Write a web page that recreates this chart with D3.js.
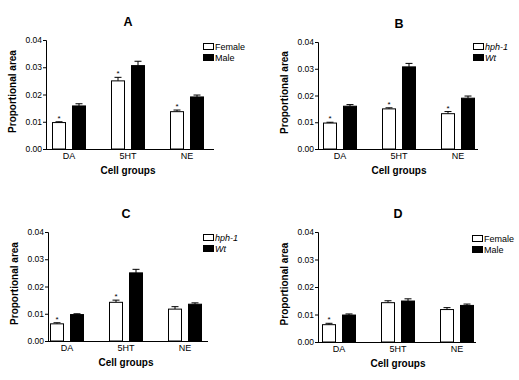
<!DOCTYPE html>
<html>
<head>
<meta charset="utf-8">
<script src="https://cdn.jsdelivr.net/npm/d3@7"></script>
<style>
  body { margin: 0; background: #fff; }
  svg { display: block; font-family: "Liberation Sans", Arial, sans-serif; }
</style>
</head>
<body>
<svg id="chart" width="519" height="380"></svg>
<script>
const groups = ["DA", "5HT", "NE"];
const yTicks = [0, 0.01, 0.02, 0.03, 0.04];
const sexSeries = ["Female", "Male"];
const geneSeries = ["hph-1", "Wt"];

// panel A: female vs male
const aOpen = [0.0097, 0.0250, 0.0137];
const aOpenErr = [0.0003, 0.0013, 0.0006];
const aFilled = [0.0158, 0.0306, 0.0191];
const aFilledErr = [0.0008, 0.0016, 0.0007];
const aStars = [true, true, true];

// panel B: hph-1 vs wt
const bOpen = [0.0097, 0.0150, 0.0132];
const bOpenErr = [0.0003, 0.0004, 0.0008];
const bFilled = [0.0160, 0.0307, 0.0190];
const bFilledErr = [0.0006, 0.0013, 0.0008];
const bStars = [true, true, true];

// panel C: hph-1 vs wt
const cOpen = [0.0063, 0.0142, 0.0117];
const cOpenErr = [0.0004, 0.0008, 0.0009];
const cFilled = [0.0097, 0.0250, 0.0135];
const cFilledErr = [0.0003, 0.0013, 0.0005];
const cStars = [true, true, false];

// panel D: female vs male
const dOpen = [0.0063, 0.0143, 0.0118];
const dOpenErr = [0.0005, 0.0007, 0.0007];
const dFilled = [0.0098, 0.0149, 0.0133];
const dFilledErr = [0.0004, 0.0008, 0.0005];
const dStars = [true, false, false];

const svg = d3.select("#chart");

function drawPanel(p) {
  const g = svg.append("g");
  const y = d3.scaleLinear().domain([0, 0.04]).range([p.bottom, p.top]);
  const x = d3.scalePoint().domain(groups).range([p.left + p.firstC, p.left + p.firstC + 118]);
  const x1 = d3.scaleBand().domain(p.series).range([-17, 17]).paddingInner(0.3);

  // y axis
  const yAxis = d3.axisLeft(y).tickValues(yTicks).tickFormat(d3.format(".2f")).tickSize(3).tickPadding(1);
  const ya = g.append("g").attr("transform", `translate(${p.left},0)`).call(yAxis);
  ya.select(".domain").attr("stroke", "#000").attr("stroke-width", 1);
  ya.selectAll(".tick line").attr("stroke", "#000");
  ya.selectAll(".tick text").attr("font-size", 8.5).attr("fill", "#000");

  // x baseline
  g.append("line")
    .attr("x1", p.left).attr("x2", p.left + p.axisLen)
    .attr("y1", p.bottom + 0.5).attr("y2", p.bottom + 0.5)
    .attr("stroke", "#000").attr("stroke-width", 1);

  const rows = groups.map((grp, i) => [
    { grp, s: p.series[0], v: p.open[i], e: p.openErr[i], fill: "#fff", star: p.stars[i] },
    { grp, s: p.series[1], v: p.filled[i], e: p.filledErr[i], fill: "#000", star: false },
  ]).flat();

  const bx = d => x(d.grp) + x1(d.s);
  // error bars
  g.selectAll(".err").data(rows).join("path")
    .attr("fill", "none").attr("stroke", "#000").attr("stroke-width", 1)
    .attr("d", d => {
      const cx = bx(d) + x1.bandwidth() / 2;
      const t = y(d.v + d.e), b = y(d.v);
      return `M${cx},${b}V${t}M${cx - 3.5},${t}H${cx + 3.5}`;
    });
  g.selectAll(".bar").data(rows).join("rect")
    .attr("x", d => bx(d) + 0.5)
    .attr("y", d => y(d.v))
    .attr("width", x1.bandwidth() - 1)
    .attr("height", d => y(0) - y(d.v))
    .attr("fill", d => d.fill)
    .attr("stroke", "#000").attr("stroke-width", 1);
  g.selectAll(".star").data(rows.filter(d => d.star)).join("text")
    .attr("x", d => bx(d) + x1.bandwidth() / 2)
    .attr("y", d => y(d.v + d.e) - 1)
    .attr("text-anchor", "middle").attr("font-size", 8).text("*");

  // group labels
  g.selectAll(".lab").data(groups).join("text")
    .attr("x", d => x(d)).attr("y", p.bottom + 10)
    .attr("text-anchor", "middle").attr("font-size", 9).text(d => d);

  g.append("text").attr("x", x("5HT")).attr("y", p.bottom + 25)
    .attr("text-anchor", "middle").attr("font-size", 10).attr("font-weight", "bold")
    .text("Cell groups");
  g.append("text")
    .attr("transform", `translate(${p.left - 30},${(p.top + p.bottom) / 2 - 3}) rotate(-90)`)
    .attr("text-anchor", "middle").attr("font-size", 10).attr("font-weight", "bold")
    .text("Proportional area");
  g.append("text").attr("x", x("5HT")).attr("y", p.top - 14)
    .attr("text-anchor", "middle").attr("font-size", 12.5).attr("font-weight", "bold")
    .text(p.title);

  // legend
  const lg = g.append("g").attr("transform", `translate(${p.legX},${p.legY})`);
  p.series.forEach((s, i) => {
    lg.append("rect").attr("x", 0.5).attr("y", i * 11 + 0.5).attr("width", 10).attr("height", 6)
      .attr("fill", i ? "#000" : "#fff").attr("stroke", "#000");
    lg.append("text").attr("x", 12).attr("y", i * 11 + 7)
      .attr("font-size", 9).attr("font-style", p.italic ? "italic" : "normal").text(s);
  });
}

drawPanel({ title: "A", series: sexSeries, open: aOpen, openErr: aOpenErr, filled: aFilled, filledErr: aFilledErr, stars: aStars,
  left: 46, top: 40, bottom: 149, firstC: 23, axisLen: 168, legX: 203, legY: 43, italic: false });
drawPanel({ title: "B", series: geneSeries, open: bOpen, openErr: bOpenErr, filled: bFilled, filledErr: bFilledErr, stars: bStars,
  left: 318, top: 42, bottom: 149, firstC: 22, axisLen: 160, legX: 473, legY: 43, italic: true });
drawPanel({ title: "C", series: geneSeries, open: cOpen, openErr: cOpenErr, filled: cFilled, filledErr: cFilledErr, stars: cStars,
  left: 48, top: 232, bottom: 341, firstC: 19, axisLen: 160, legX: 203, legY: 234, italic: true });
drawPanel({ title: "D", series: sexSeries, open: dOpen, openErr: dOpenErr, filled: dFilled, filledErr: dFilledErr, stars: dStars,
  left: 318, top: 232, bottom: 342, firstC: 21, axisLen: 158, legX: 472, legY: 235, italic: false });
</script>
</body>
</html>
